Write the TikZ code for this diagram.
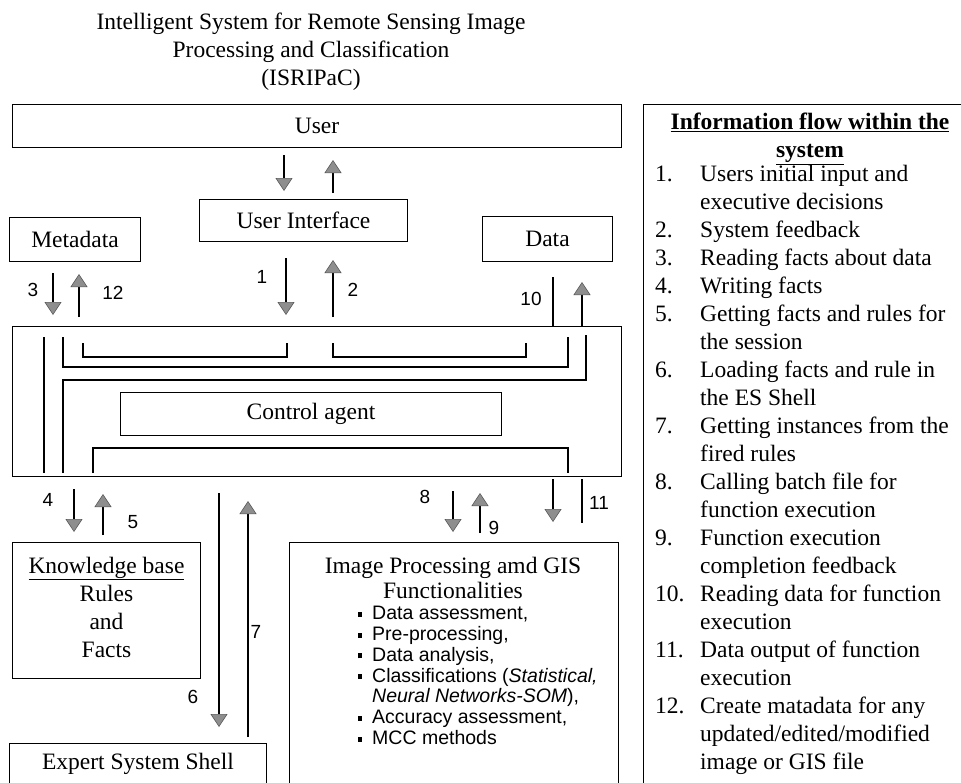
\documentclass[tikz,border=0pt]{standalone}
\usepackage{fontspec}
\setmainfont{Liberation Serif}
\newfontfamily\sansfont{Liberation Sans}
\usetikzlibrary{arrows.meta}
\definecolor{headcolor}{HTML}{8e8e8e}
\definecolor{headedge}{HTML}{5a5a5a}
\newcommand{\sqbullet}{\rule[3pt]{4pt}{5pt}}
\tikzset{
  box/.style={draw, line width=1pt, rectangle, anchor=north west, inner sep=0pt, font=\fontsize{23.5}{28}\selectfont},
  flow/.style={line width=1.2pt, -{Triangle[width=17pt,length=13pt,fill=headcolor,color=headedge,line width=0.6pt]}},
  wire/.style={line width=1.1pt},
  num/.style={font=\sansfont\fontsize{19}{22}\selectfont, inner sep=0pt},
}

\begin{document}
\begin{tikzpicture}[x=1pt, y=-1pt]%
\useasboundingbox (0,0) rectangle (961,782);%
\clip (0,0) rectangle (961,782);%
\node[align=center, font=\fontsize{23.5}{28}\selectfont] (title) at (311,52) {Intelligent System for Remote Sensing Image\\Processing and Classification\\(ISRIPaC)};%
\node[box, minimum width=609pt, minimum height=43pt] (user) at (12,104) {User};%
\node[box, minimum width=208pt, minimum height=42pt] (ui) at (199,199) {User Interface};%
\node[box, minimum width=131pt, minimum height=44pt] (meta) at (9,217) {Metadata};%
\node[box, minimum width=130pt, minimum height=45pt] (data) at (482,216) {Data};%
\node[box, minimum width=609pt, minimum height=150pt] (ctrl) at (12,326) {};%
\node[box, minimum width=381pt, minimum height=43pt] (agent) at (120,392) {Control agent};%
\node[box, minimum width=188pt, minimum height=136pt, align=center] (kb) at (12,542) {\underline{Knowledge base}\\Rules\\and\\Facts\\[-21pt]};%
\node[box, minimum width=257pt, minimum height=40pt] (ess) at (9,743) {Expert System Shell};%
\node[box, minimum width=329pt, minimum height=260pt] (ip) at (289,542) {};%
\node[box, minimum width=330pt, minimum height=700pt] (info) at (643,104) {};%
\node[align=center, font=\fontsize{23.5}{25}\selectfont] (iptitle) at (453,578) {Image Processing amd GIS\\Functionalities};%
\node[anchor=west, inner sep=0pt, font=\sansfont\fontsize{19.5}{20.8}\selectfont] (iplist) at (358,678) {\begin{tabular}{@{}p{14pt}@{}l@{}}
\sqbullet & Data assessment,\\
\sqbullet & Pre-processing,\\
\sqbullet & Data analysis,\\
\sqbullet & Classifications (\textit{Statistical,}\\
 & \textit{Neural Networks-SOM}),\\
\sqbullet & Accuracy assessment,\\
\sqbullet & MCC methods
\end{tabular}};%
\node[align=center, font=\bfseries\fontsize{23.5}{28}\selectfont] (infohead) at (810,139) {\underline{Information flow within the}\\\underline{system}};%
\node[anchor=base west, inner sep=0pt, font=\fontsize{23.5}{28}\selectfont] (infolist) at (655,181) {\begin{tabular}[t]{@{}p{45pt}@{}l@{}}
1. & Users initial input and\\
 & executive decisions\\
2. & System feedback\\
3. & Reading facts about data\\
4. & Writing facts\\
5. & Getting facts and rules for\\
 & the session\\
6. & Loading facts and rule in\\
 & the ES Shell\\
7. & Getting instances from the\\
 & fired rules\\
8. & Calling batch file for\\
 & function execution\\
9. & Function execution\\
 & completion feedback\\
10. & Reading data for function\\
 & execution\\
11. & Data output of function\\
 & execution\\
12. & Create matadata for any\\
 & updated/edited/modified\\
 & image or GIS file
\end{tabular}};%
\draw[flow, shorten <=7pt, shorten >=8pt] (user.south -| 284,0) -- (ui.north -| 284,0);%
\draw[flow, shorten <=6pt, shorten >=12pt] (ui.north -| 333,0) -- (user.south -| 333,0);%
\draw[flow, shorten <=11pt, shorten >=11pt] (meta.south -| 53,0) -- (ctrl.north -| 53,0);%
\draw[flow, shorten <=9pt, shorten >=12pt] (ctrl.north -| 79,0) -- (meta.south -| 79,0);%
\draw[flow, shorten <=16pt, shorten >=11pt] (ui.south -| 286,0) -- (ctrl.north -| 286,0);%
\draw[flow, shorten <=9pt, shorten >=18pt] (ctrl.north -| 333,0) -- (ui.south -| 333,0);%
\draw[wire, shorten <=15pt] (data.south -| 553,0) -- (ctrl.north -| 553,0);%
\draw[flow, shorten >=20pt] (ctrl.north -| 582,0) -- (data.south -| 582,0);%
\draw[flow, shorten <=12pt, shorten >=10pt] (ctrl.south -| 74,0) -- (kb.north -| 74,0);%
\draw[flow, shorten <=7pt, shorten >=17pt] (kb.north -| 103,0) -- (ctrl.south -| 103,0);%
\draw[flow, shorten <=16pt, shorten >=16pt] (ctrl.south -| 219,0) -- (ess.north -| 219,0);%
\draw[flow, shorten <=6pt, shorten >=24pt] (ess.north -| 248,0) -- (ctrl.south -| 248,0);%
\draw[flow, shorten <=14pt, shorten >=10pt] (ctrl.south -| 453,0) -- (ip.north -| 453,0);%
\draw[flow, shorten <=9pt, shorten >=16pt] (ip.north -| 480,0) -- (ctrl.south -| 480,0);%
\draw[flow, shorten <=2pt, shorten >=20pt] (ctrl.south -| 553,0) -- (ip.north -| 553,0);%
\draw[wire, shorten <=2pt, shorten >=19pt] (ctrl.south -| 582,0) -- (ip.north -| 582,0);%
\draw[wire] (44,337) -- (44,473);%
\draw[wire] (63,337) -- (63,367) -- (568,367) -- (568,337);%
\draw[wire] (83,343) -- (83,357) -- (287,357) -- (287,343);%
\draw[wire] (333,343) -- (333,357) -- (526,357) -- (526,343);%
\draw[wire] (63,473) -- (63,380) -- (586,380) -- (586,335);%
\draw[wire] (93,473) -- (93,448) -- (568,448) -- (568,473);%
\node[num] (l1) at (262,277) {1};%
\node[num] (l2) at (353,290) {2};%
\node[num] (l3) at (33,290) {3};%
\node[num] (l12) at (113,293) {12};%
\node[num] (l10) at (531,299) {10};%
\node[num] (l4) at (48,500) {4};%
\node[num] (l5) at (133,522) {5};%
\node[num] (l6) at (193,697) {6};%
\node[num] (l7) at (256,632) {7};%
\node[num] (l8) at (425,497) {8};%
\node[num] (l9) at (494,528) {9};%
\node[num] (l11) at (599,503) {11};%
\end{tikzpicture}
\end{document}
